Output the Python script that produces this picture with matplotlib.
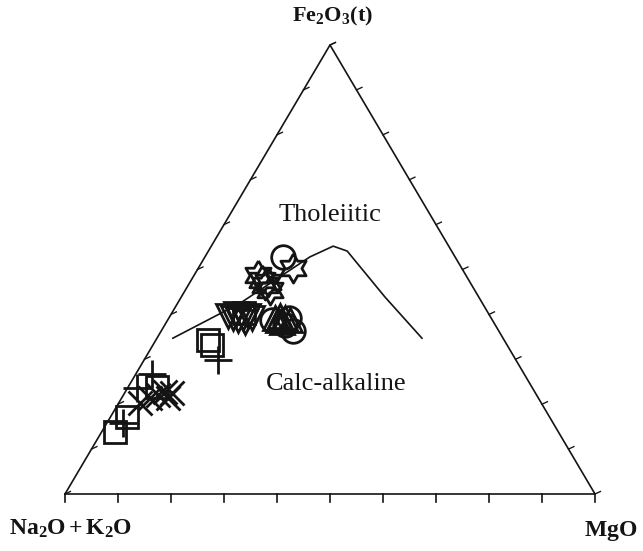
import numpy as np
import matplotlib
matplotlib.use("Agg")
import matplotlib.pyplot as plt

plt.rcParams['font.family'] = ['Liberation Serif', 'DejaVu Serif']
plt.rcParams['mathtext.fontset'] = 'custom'
plt.rcParams['mathtext.rm'] = 'Liberation Serif'
plt.rcParams['mathtext.bf'] = 'Liberation Serif:bold'
plt.rcParams['mathtext.it'] = 'Liberation Serif:italic'

# Ternary compositions as fractions: F = Fe2O3(t), M = MgO (A = Na2O+K2O is the remainder)
boundary_F = [0.347, 0.425, 0.528, 0.552, 0.541, 0.439, 0.347]
boundary_M = [0.030, 0.118, 0.198, 0.230, 0.262, 0.384, 0.500]

squares_F = [0.138, 0.172, 0.238, 0.343, 0.332, 0.403]
squares_M = [0.025, 0.031, 0.054, 0.098, 0.112, 0.136]

plus_F = [0.267, 0.236, 0.158, 0.298]
plus_M = [0.031, 0.018, 0.030, 0.140]

cross_F = [0.203, 0.214, 0.221, 0.227, 0.225, 0.214]
cross_M = [0.040, 0.054, 0.065, 0.075, 0.090, 0.087]

invtri_F = [0.396, 0.392, 0.388, 0.392, 0.396, 0.401, 0.383, 0.392]
invtri_M = [0.109, 0.121, 0.133, 0.140, 0.147, 0.122, 0.148, 0.157]

tri_F = [0.392, 0.396, 0.392, 0.388, 0.383, 0.388]
tri_M = [0.200, 0.208, 0.219, 0.231, 0.218, 0.208]

circle_F = [0.528, 0.388, 0.376, 0.363, 0.392]
circle_M = [0.147, 0.197, 0.227, 0.249, 0.227]

star_F = [0.488, 0.466, 0.454, 0.477, 0.503, 0.472]
star_M = [0.120, 0.145, 0.160, 0.133, 0.179, 0.147]

tick_values = np.linspace(0, 1, 11)


def to_xy(F, M):
    F = np.asarray(F, float)
    M = np.asarray(M, float)
    return M + F / 2.0, F


W, H = 643, 551
fig = plt.figure(figsize=(W / 100, H / 100), dpi=100)
x0, x1, ytop, ybot = 65, 595, 45, 494
ax = fig.add_axes([x0 / W, (H - ybot) / H, (x1 - x0) / W, (ybot - ytop) / H])
ax.set_xlim(0, 1)
ax.set_ylim(0, 1)
ax.axis('off')

ink = '#141414'
lw = 1.2
# triangle
ax.plot([0, 1, 0.5, 0], [0, 0, 1, 0], color=ink, lw=lw, clip_on=False, solid_joinstyle='miter')

sx = 1 / (x1 - x0)
sy = 1 / (ybot - ytop)
ang = np.deg2rad(25)
for t in tick_values:
    ax.plot([t, t], [0, -8 * sy], color=ink, lw=lw, clip_on=False)
    lx, ly = t / 2, t
    ax.plot([lx, lx + 6 * np.cos(ang) * sx], [ly, ly + 6 * np.sin(ang) * sy],
            color=ink, lw=lw * 0.8, clip_on=False)
    rx, ry = 1 - t / 2, t
    ax.plot([rx, rx + 6 * np.cos(ang) * sx], [ry, ry + 6 * np.sin(ang) * sy],
            color=ink, lw=lw * 0.8, clip_on=False)

# boundary curve
bx, by = to_xy(boundary_F, boundary_M)
ax.plot(bx, by, color=ink, lw=lw, clip_on=False)

mk = dict(linestyle='none', markerfacecolor='none', markeredgecolor=ink,
          markeredgewidth=2.0, clip_on=False)
ax.plot(*to_xy(squares_F, squares_M), marker='s', markersize=16, **mk)
ax.plot(*to_xy(plus_F, plus_M), marker='+', markersize=20, **mk)
ax.plot(*to_xy(cross_F, cross_M), marker='x', markersize=17, **mk)
ax.plot(*to_xy(invtri_F, invtri_M), marker='v', markersize=17, **mk)
ax.plot(*to_xy(tri_F, tri_M), marker='^', markersize=17, **mk)
ax.plot(*to_xy(circle_F, circle_M), marker='o', markersize=17, **mk)
hex_path = [(0, 1), (0.289, 0.5), (0.866, 0.5), (0.577, 0), (0.866, -0.5), (0.289, -0.5),
            (0, -1), (-0.289, -0.5), (-0.866, -0.5), (-0.577, 0), (-0.866, 0.5), (-0.289, 0.5), (0, 1)]
ax.plot(*to_xy(star_F, star_M), marker=hex_path, markersize=21, **mk)

# labels
fig.text(333 / W, 1 - 16 / H, r'$\mathbf{Fe_{2}O_{3}(t)}$', ha='center', va='center', fontsize=16, color=ink)
fig.text(71 / W, 1 - 529 / H, r'$\mathbf{Na_{2}O + K_{2}O}$', ha='center', va='center', fontsize=17, color=ink)
fig.text(637 / W, 1 - 531 / H, r'$\mathbf{MgO}$', ha='right', va='center', fontsize=17, color=ink)
fig.text(330 / W, 1 - 215 / H, 'Tholeiitic', ha='center', va='center', fontsize=19, color=ink)
fig.text(336 / W, 1 - 384 / H, 'Calc-alkaline', ha='center', va='center', fontsize=19, color=ink)

fig.savefig('out.png', dpi=100)
